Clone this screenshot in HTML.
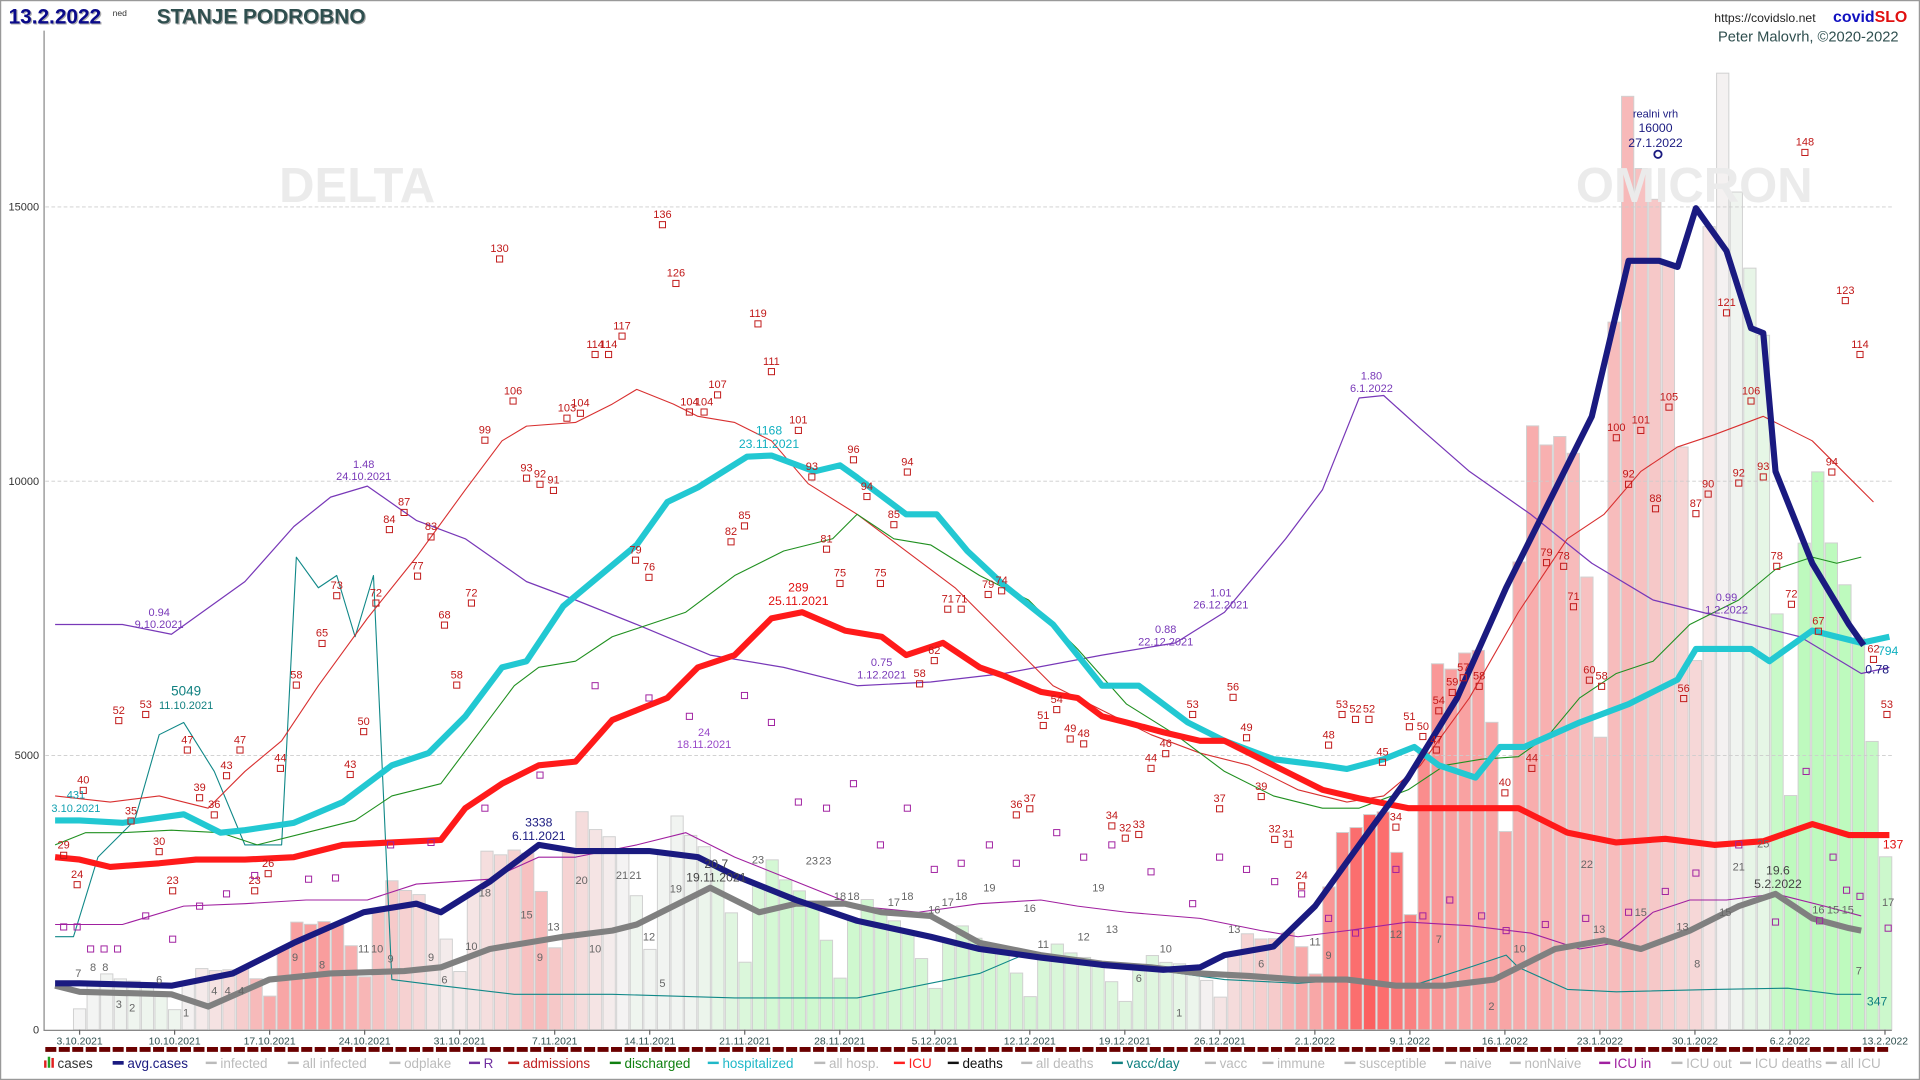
<!DOCTYPE html>
<html><head><meta charset="utf-8"><style>
html,body{margin:0;padding:0;background:#fff;overflow:hidden}
svg{display:block}
text{font-family:"Liberation Sans",sans-serif}
</style></head><body>
<svg id="s" width="1920" height="1080" viewBox="0 0 1568 882" xmlns="http://www.w3.org/2000/svg">
<rect x="0.5" y="0.5" width="1567" height="881" fill="#fff" stroke="#999"/>
<g id="bars"></g>
<text x="228" y="165" font-size="40" font-weight="bold" fill="#ebebeb">DELTA</text>
<text x="1287" y="165" font-size="40" font-weight="bold" fill="#ebebeb">OMICRON</text>
<g stroke="#ccc" stroke-dasharray="3,2" stroke-width="0.7">
<line x1="37" y1="617" x2="1545" y2="617"/><line x1="37" y1="393" x2="1545" y2="393"/><line x1="37" y1="169" x2="1545" y2="169"/>
</g>
<g font-size="9" fill="#333" text-anchor="end">
<text x="32" y="844">0</text><text x="32" y="620">5000</text><text x="32" y="396">10000</text><text x="32" y="172">15000</text>
</g>
<line x1="36" y1="25" x2="36" y2="842" stroke="#888"/>
<line x1="36" y1="841.5" x2="1545" y2="841.5" stroke="#888"/>
<g id="lines" fill="none" stroke-linejoin="round"></g>
<g id="labels"></g>
<g id="ticks"></g>
<line x1="37" y1="857" x2="1543" y2="857" stroke="#6b0000" stroke-width="4" stroke-dasharray="9,2"/>
<text x="8" y="20" font-size="17" font-weight="bold" fill="#aaa">13.2.2022</text>
<text x="7" y="19" font-size="17" font-weight="bold" fill="#0a0a8a">13.2.2022</text>
<text x="92" y="13" font-size="7" fill="#333">ned</text>
<text x="129" y="20" font-size="17" font-weight="bold" fill="#aaa">STANJE PODROBNO</text>
<text x="128" y="19" font-size="17" font-weight="bold" fill="#2f4f4f">STANJE PODROBNO</text>
<text x="1400" y="18" font-size="10" fill="#222">https://covidslo.net</text>
<text x="1497" y="18" font-size="13" font-weight="bold" fill="#1010c0">covid<tspan fill="#e01010">SLO</tspan></text>
<text x="1403" y="34" font-size="12" fill="#2f4f4f">Peter Malovrh, ©2020-2022</text>
<g id="legend" font-size="11"></g>
</svg>
<script>
const NS="http://www.w3.org/2000/svg";
function el(p,t,a,txt){const e=document.createElementNS(NS,t);for(const k in a)e.setAttribute(k,a[k]);if(txt!==undefined)e.textContent=txt;document.getElementById(p).appendChild(e);return e;}
const X=d=>65+11.09*d;
const navy=[[45,803],[65,803],[140,805],[190,795],[240,770],[297,745],[340,738],[360,745],[400,720],[440,690],[470,695],[530,695],[570,700],[600,715],[650,735],[700,752],[760,765],[800,775],[850,782],[900,788],[950,792],[980,790],[1000,780],[1040,773],[1074,740],[1110,690],[1150,635],[1190,570],[1230,480],[1260,420],[1300,340],[1330,213],[1355,213],[1370,218],[1385,170],[1410,205],[1430,268],[1440,272],[1450,385],[1480,460],[1510,510],[1522,527]];
function interp(pts,x){if(x<=pts[0][0])return pts[0][1];for(let i=1;i<pts.length;i++){if(x<=pts[i][0]){const a=pts[i-1],b=pts[i];return a[1]+(b[1]-a[1])*(x-a[0])/(b[0]-a[0]);}}return pts[pts.length-1][1];}
const avg=d=>(841-interp(navy,X(d)))/0.0448;
const wf=[0.45,1.0,1.22,1.12,1.08,1.0,0.75];
function lerp(c1,c2,t){return "rgb("+c1.map((v,i)=>Math.round(v+(c2[i]-v)*t)).join(",")+")";}
for(let d=0;d<134;d++){
 let v=Math.min(avg(d)*wf[d%7],18100);
 const r=avg(d)/avg(Math.max(0,d-7));
 let c;
 if(r>=1){c=lerp([244,244,244],[255,48,48],Math.min((r-1)/1.8,1));}
 else{c=lerp([244,244,244],[190,250,190],Math.min((1-r)/0.35,1));}
 const h=v*0.0448;
 el("bars","rect",{x:X(d)-5,y:841-h,width:10,height:h,fill:c,stroke:"#d0d0d0","stroke-width":0.8});
}
function line(pts,col,w,extra){const a={points:pts.map(p=>p.join(",")).join(" "),stroke:col,"stroke-width":w};Object.assign(a,extra||{});el("lines","polyline",a);}
line([[45,765],[60,765],[80,700],[110,670],[130,600],[150,590],[175,630],[200,690],[230,690],[242,455],[260,480],[275,470],[290,520],[305,470],[320,800],[360,805],[420,812],[500,812],[600,815],[700,815],[800,795],[840,778],[900,790],[950,793],[1000,800],[1060,803],[1100,800],[1150,806],[1200,790],[1230,780],[1240,790],[1280,808],[1320,810],[1400,808],[1460,807],[1500,812],[1520,812]],"#108888",0.9);
line([[45,755],[100,755],[150,740],[200,738],[250,735],[300,735],[340,722],[400,718],[440,700],[470,700],[520,690],[560,680],[600,700],[650,720],[700,740],[750,745],[800,738],[850,735],[880,740],[920,745],[980,750],[1030,760],[1060,765],[1100,760],[1150,753],[1200,756],[1250,762],[1290,775],[1320,770],[1350,745],[1380,735],[1410,735],[1450,730],[1490,740],[1520,748]],"#a020a0",0.9);
line([[45,510],[100,510],[140,518],[200,475],[240,430],[270,406],[300,397],[340,425],[380,440],[430,475],[470,490],[520,510],[580,535],[640,545],[700,560],[760,557],[820,550],[900,535],[960,525],[1000,500],[1050,440],[1080,400],[1110,325],[1130,323],[1160,350],[1200,385],[1250,420],[1300,460],[1350,490],[1410,505],[1470,520],[1520,550],[1543,545]],"#7838b8",1);
line([[45,650],[90,655],[130,650],[170,660],[200,630],[230,605],[260,560],[300,505],[340,455],[380,400],[410,360],[430,348],[470,345],[500,330],[520,318],[550,330],[570,340],[600,345],[630,360],[660,395],[700,420],[740,450],[780,480],[820,520],[860,560],[900,580],[940,600],[980,615],[1020,625],[1060,645],[1100,655],[1130,650],[1160,625],[1200,570],[1240,500],[1280,440],[1310,420],[1340,385],[1370,365],[1400,355],[1440,340],[1480,360],[1510,390],[1530,410]],"#d83030",0.9);
line([[45,690],[70,680],[100,680],[140,678],[180,680],[210,690],[250,680],[290,670],[320,650],[360,640],[390,600],[420,560],[440,545],[470,540],[500,520],[530,510],[560,500],[600,470],[640,450],[680,440],[700,420],[730,440],[760,445],[800,470],[840,490],[880,530],[920,575],[960,600],[1000,630],[1040,650],[1080,660],[1110,660],[1150,645],[1180,625],[1210,620],[1240,618],[1265,600],[1290,570],[1320,550],[1350,540],[1380,510],[1420,490],[1450,465],[1480,455],[1500,460],[1520,455]],"#209020",0.9);
line([[45,805],[65,810],[140,812],[170,822],[220,800],[270,795],[330,793],[360,790],[400,775],[460,765],[500,760],[520,755],[580,725],[620,745],[650,738],[690,738],[720,745],[760,748],[800,770],[850,780],[900,787],[940,790],[980,795],[1020,797],[1060,800],[1100,800],[1140,805],[1180,805],[1220,800],[1240,790],[1270,775],[1310,768],[1340,775],[1380,760],[1420,740],[1450,730],[1480,750],[1510,758],[1520,760]],"#808080",5);
line([[45,670],[65,670],[100,672],[150,665],[180,680],[200,678],[240,672],[280,655],[320,625],[350,615],[380,585],[410,545],[430,540],[460,495],[490,470],[520,445],[545,410],[570,398],[610,373],[630,372],[665,385],[686,380],[700,390],[740,420],[765,420],[790,450],[820,478],[860,510],[900,560],[930,560],[970,590],[1000,605],[1040,620],[1080,625],[1100,628],[1130,620],[1155,610],[1175,625],[1205,635],[1225,610],[1245,610],[1290,590],[1330,575],[1370,555],[1385,530],[1430,530],[1445,540],[1480,515],[1500,520],[1520,525],[1543,520]],"#22c8d2",5);
line([[45,700],[65,702],[90,708],[130,705],[160,702],[200,702],[240,700],[280,690],[320,688],[360,686],[380,660],[410,640],[440,625],[470,622],[500,588],[520,580],[545,570],[570,545],[600,535],[630,505],[655,500],[690,515],[720,520],[740,535],[770,525],[800,545],[820,552],[850,565],[880,570],[900,585],[920,590],[950,598],[980,605],[1000,605],[1040,625],[1080,645],[1110,652],[1150,660],[1200,660],[1240,660],[1280,680],[1320,688],[1360,685],[1400,690],[1440,687],[1480,673],[1510,682],[1543,682]],"#ff1a1a",5);
line(navy,"#1a1a80",5);
const adm=[[68,640,"40"],[97,583,"52"],[119,578,"53"],[153,607,"47"],[196,607,"47"],[242,554,"58"],[263,520,"65"],[275,481,"73"],[307,487,"72"],[297,592,"50"],[286,627,"43"],[229,622,"44"],[185,628,"43"],[163,646,"39"],[175,660,"36"],[107,665,"35"],[130,690,"30"],[52,693,"29"],[63,717,"24"],[141,722,"23"],[208,722,"23"],[219,708,"26"],[318,427,"84"],[330,413,"87"],[352,433,"83"],[341,465,"77"],[363,505,"68"],[385,487,"72"],[373,554,"58"],[396,354,"99"],[419,322,"106"],[408,206,"130"],[430,385,"93"],[441,390,"92"],[452,395,"91"],[463,336,"103"],[474,332,"104"],[486,284,"114"],[497,284,"114"],[508,269,"117"],[541,178,"136"],[552,226,"126"],[519,452,"79"],[530,466,"76"],[563,331,"104"],[575,331,"104"],[586,317,"107"],[619,259,"119"],[630,298,"111"],[652,346,"101"],[608,424,"85"],[597,437,"82"],[663,384,"93"],[675,443,"81"],[686,471,"75"],[697,370,"96"],[708,400,"94"],[719,471,"75"],[730,423,"85"],[741,380,"94"],[763,534,"62"],[774,492,"71"],[785,492,"71"],[807,480,"79"],[818,477,"74"],[751,553,"58"],[852,587,"51"],[863,574,"54"],[874,598,"49"],[885,602,"48"],[830,660,"36"],[841,655,"37"],[908,669,"34"],[919,679,"32"],[930,676,"33"],[940,622,"44"],[952,610,"46"],[974,578,"53"],[1007,564,"56"],[996,655,"37"],[1030,645,"39"],[1018,597,"49"],[1041,680,"32"],[1052,684,"31"],[1063,718,"24"],[1085,603,"48"],[1096,578,"53"],[1107,582,"52"],[1118,582,"52"],[1129,617,"45"],[1151,588,"51"],[1162,596,"50"],[1173,607,"47"],[1140,670,"34"],[1229,642,"40"],[1251,622,"44"],[1320,352,"100"],[1340,346,"101"],[1363,327,"105"],[1330,390,"92"],[1352,410,"88"],[1385,414,"87"],[1395,398,"90"],[1420,389,"92"],[1440,384,"93"],[1430,322,"106"],[1410,250,"121"],[1474,119,"148"],[1507,240,"123"],[1519,284,"114"],[1496,380,"94"],[1451,457,"78"],[1463,488,"72"],[1285,490,"71"],[1263,454,"79"],[1277,457,"78"],[1298,550,"60"],[1308,555,"58"],[1375,565,"56"],[1485,510,"67"],[1541,578,"53"],[1195,548,"57"],[1208,555,"58"],[1186,560,"59"],[1175,575,"54"],[1530,533,"62"]];
adm.forEach(a=>{el("labels","text",{x:a[0],y:a[1],"font-size":9,fill:"#c01818","text-anchor":"middle"},a[2]);el("labels","rect",{x:a[0]-2.5,y:a[1]+3,width:5,height:5,fill:"none",stroke:"#c01818","stroke-width":0.8});});
[[52,757],[63,757],[74,775],[85,775],[96,775],[119,748],[141,767],[163,740],[185,730],[208,715],[252,718],[274,717],[319,690],[352,688],[396,660],[441,633],[486,560],[530,570],[563,585],[608,568],[630,590],[652,655],[675,660],[697,640],[719,690],[741,660],[763,710],[785,705],[808,690],[830,705],[863,680],[885,700],[908,690],[940,712],[974,738],[996,700],[1018,710],[1041,720],[1063,730],[1085,750],[1107,762],[1140,710],[1162,748],[1184,735],[1210,748],[1230,760],[1262,755],[1295,750],[1330,745],[1360,728],[1385,713],[1420,690],[1450,753],[1475,630],[1486,752],[1497,700],[1508,727],[1519,732],[1542,758]].forEach(p=>el("labels","rect",{x:p[0]-2.5,y:p[1]-2.5,width:5,height:5,fill:"none",stroke:"#a020a0","stroke-width":0.8}));
[[64,798,"7"],[76,793,"8"],[86,793,"8"],[97,823,"3"],[108,826,"2"],[130,803,"6"],[152,830,"1"],[175,812,"4"],[186,812,"4"],[197,812,"4"],[241,785,"9"],[263,791,"8"],[297,778,"11"],[308,778,"10"],[319,786,"9"],[352,785,"9"],[363,803,"6"],[385,776,"10"],[396,732,"18"],[430,750,"15"],[441,785,"9"],[452,760,"13"],[475,722,"20"],[486,778,"10"],[508,718,"21"],[519,718,"21"],[530,768,"12"],[541,806,"5"],[552,729,"19"],[619,705,"23"],[663,706,"23"],[674,706,"23"],[686,735,"18"],[697,735,"18"],[730,740,"17"],[741,735,"18"],[763,746,"16"],[774,740,"17"],[785,735,"18"],[808,728,"19"],[841,745,"16"],[852,774,"11"],[885,768,"12"],[897,728,"19"],[908,762,"13"],[930,802,"6"],[952,778,"10"],[963,830,"1"],[1008,762,"13"],[1030,790,"6"],[1074,772,"11"],[1085,783,"9"],[1140,766,"12"],[1175,770,"7"],[1218,825,"2"],[1241,778,"10"],[1296,709,"22"],[1306,762,"13"],[1340,748,"15"],[1374,760,"13"],[1386,790,"8"],[1409,748,"15"],[1420,711,"21"],[1440,692,"25"],[1485,746,"16"],[1497,746,"15"],[1509,746,"15"],[1518,796,"7"],[1542,740,"17"]].forEach(p=>el("labels","text",{x:p[0],y:p[1],"font-size":9,fill:"#666","text-anchor":"middle"},p[2]));
function T(x,y,s,c,sz,w){el("labels","text",{x:x,y:y,"font-size":sz||9,fill:c,"text-anchor":"middle","font-weight":w||"normal"},s);}
T(62,652,"431","#10a0b0");T(62,663,"3.10.2021","#10a0b0");
T(152,568,"5049","#108080",11);T(152,579,"11.10.2021","#108080");
T(130,503,"0.94","#7838b8");T(130,513,"9.10.2021","#7838b8");
T(297,382,"1.48","#7838b8");T(297,392,"24.10.2021","#7838b8");
T(440,675,"3338","#1a1a80",10);T(440,686,"6.11.2021","#1a1a80",10);
T(575,601,"24","#9848c8");T(575,611,"18.11.2021","#9848c8");
T(585,709,"20.7","#444",10);T(585,720,"19.11.2021","#444",10);
T(628,355,"1168","#10b0c0",10);T(628,366,"23.11.2021","#10b0c0",10);
T(652,483,"289","#e01010",10);T(652,494,"25.11.2021","#e01010",10);
T(720,544,"0.75","#7838b8");T(720,554,"1.12.2021","#7838b8");
T(952,517,"0.88","#7838b8");T(952,527,"22.12.2021","#7838b8");
T(997,487,"1.01","#7838b8");T(997,497,"26.12.2021","#7838b8");
T(1120,310,"1.80","#7838b8");T(1120,320,"6.1.2022","#7838b8");
T(1410,491,"0.99","#7838b8");T(1410,501,"1.2.2022","#7838b8");
T(1452,714,"19.6","#444",10);T(1452,725,"5.2.2022","#444",10);
T(1352,96,"realni vrh","#1a1a80");T(1352,108,"16000","#1a1a80",10);T(1352,120,"27.1.2022","#1a1a80",10);
el("labels","circle",{cx:1354,cy:126,r:3,fill:"none",stroke:"#1a1a80","stroke-width":1.5});
T(1542,535,"794","#10b0c0",10);T(1533,550,"0.78","#1a1a80",10);T(1546,693,"137","#e01010",10);T(1533,821,"347","#108080",10);
const dl=["3.10.2021","10.10.2021","17.10.2021","24.10.2021","31.10.2021","7.11.2021","14.11.2021","21.11.2021","28.11.2021","5.12.2021","12.12.2021","19.12.2021","26.12.2021","2.1.2022","9.1.2022","16.1.2022","23.1.2022","30.1.2022","6.2.2022","13.2.2022"];
dl.forEach((s,i)=>{const x=65+77.6*i;el("ticks","line",{x1:x,y1:841,x2:x,y2:845,stroke:"#666"});el("ticks","text",{x:x,y:853,"font-size":8.5,fill:"#2f4f4f","text-anchor":"middle"},s);});
const lg=[[47,"cases","#333"],[104,"avg.cases","#1a1a80"],[180,"infected","#bbb"],[247,"all infected","#bbb"],[330,"odplake","#bbb"],[395,"R","#7030a0"],[427,"admissions","#c02020"],[510,"discharged","#108010"],[590,"hospitalized","#20b8c8"],[677,"all hosp.","#bbb"],[742,"ICU","#ff2020"],[786,"deaths","#111"],[846,"all deaths","#bbb"],[920,"vacc/day","#108080"],[996,"vacc","#bbb"],[1043,"immune","#bbb"],[1110,"susceptible","#bbb"],[1192,"naive","#bbb"],[1245,"nonNaive","#bbb"],[1318,"ICU in","#a020a0"],[1377,"ICU out","#bbb"],[1433,"ICU deaths","#bbb"],[1503,"all ICU","#bbb"]];
lg.forEach((l,i)=>{el("legend","text",{x:l[0],y:872,fill:l[2]},l[1]);if(i>0)el("legend","line",{x1:l[0]-12,y1:868,x2:l[0]-3,y2:868,stroke:l[2],"stroke-width":i==1?3:2});});
el("legend","rect",{x:36,y:866,width:2,height:6,fill:"#e02020"});el("legend","rect",{x:39,y:863,width:2,height:9,fill:"#20a020"});el("legend","rect",{x:42,y:864,width:2,height:8,fill:"#e02020"});
</script>
</body></html>
